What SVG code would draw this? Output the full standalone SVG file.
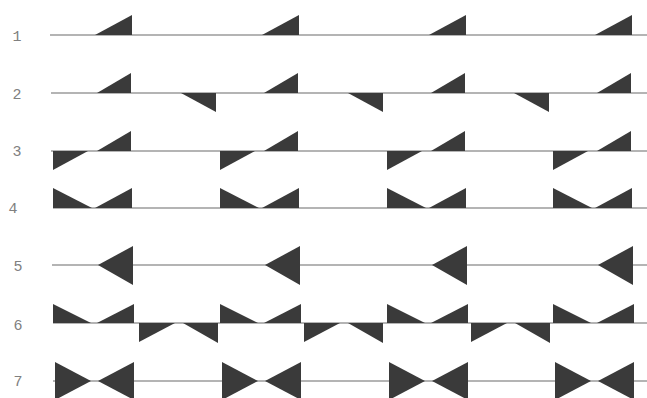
<svg xmlns="http://www.w3.org/2000/svg" xmlns:xlink="http://www.w3.org/1999/xlink" width="647" height="398" viewBox="0 0 647 398">
<style>
.ln{stroke:#6a6a6a;stroke-width:1.2;fill:none}
.tr{fill:#3a3a3a}
.lb{font-family:"Liberation Mono","DejaVu Sans Mono",monospace;font-size:15px;fill:#808080;text-anchor:middle}
</style>
<defs>
<polygon id="r1" class="tr" points="42,35 79,35 79,15"/>
<polygon id="r2u" class="tr" points="44,93 78,93 78,73"/>
<polygon id="r2d" class="tr" points="128,93 163,93 163,112"/>
<polygon id="r3d" class="tr" points="0,151 35,151 0,170"/>
<polygon id="r3u" class="tr" points="44,151 78,151 78,131"/>
<polygon id="r4l" class="tr" points="0,188 0,208 39,208"/>
<polygon id="r4r" class="tr" points="42,208 79,208 79,188"/>
<polygon id="r5" class="tr" points="45,265 80,246 80,285"/>
<polygon id="r6l" class="tr" points="0,304 0,323 38,323"/>
<polygon id="r6r" class="tr" points="44,323 81,323 81,304"/>
<polygon id="r6bl" class="tr" points="86,323 122,323 86,342"/>
<polygon id="r6br" class="tr" points="130,323 165,323 165,343"/>
<polygon id="r7l" class="tr" points="2,362 38,381 2,400"/>
<polygon id="r7r" class="tr" points="45,381 81,362 81,400"/>
</defs>
<g id="labels">
<text class="lb" x="17" y="41">1</text>
<text class="lb" x="17" y="99">2</text>
<text class="lb" x="17" y="156">3</text>
<text class="lb" x="13" y="213">4</text>
<text class="lb" x="18" y="271">5</text>
<text class="lb" x="18" y="330">6</text>
<text class="lb" x="18" y="386">7</text>
</g>
<g id="lines">
<line class="ln" x1="50" y1="35" x2="647" y2="35"/>
<line class="ln" x1="51" y1="93" x2="647" y2="93"/>
<line class="ln" x1="51" y1="151" x2="647" y2="151"/>
<line class="ln" x1="53" y1="208" x2="647" y2="208"/>
<line class="ln" x1="52" y1="265" x2="647" y2="265"/>
<line class="ln" x1="53" y1="323" x2="647" y2="323"/>
<line class="ln" x1="53" y1="381" x2="647" y2="381"/>
</g>
<g id="row1">
<use xlink:href="#r1" x="53"/><use xlink:href="#r1" x="220"/><use xlink:href="#r1" x="387"/><use xlink:href="#r1" x="553"/>
</g>
<g id="row2">
<use xlink:href="#r2u" x="53"/><use xlink:href="#r2u" x="220"/><use xlink:href="#r2u" x="387"/><use xlink:href="#r2u" x="553"/>
<use xlink:href="#r2d" x="53"/><use xlink:href="#r2d" x="220"/><use xlink:href="#r2d" x="386"/>
</g>
<g id="row3">
<use xlink:href="#r3d" x="53"/><use xlink:href="#r3d" x="220"/><use xlink:href="#r3d" x="387"/><use xlink:href="#r3d" x="553"/>
<use xlink:href="#r3u" x="53"/><use xlink:href="#r3u" x="220"/><use xlink:href="#r3u" x="387"/><use xlink:href="#r3u" x="553"/>
</g>
<g id="row4">
<use xlink:href="#r4l" x="53"/><use xlink:href="#r4l" x="220"/><use xlink:href="#r4l" x="387"/><use xlink:href="#r4l" x="553"/>
<use xlink:href="#r4r" x="53"/><use xlink:href="#r4r" x="220"/><use xlink:href="#r4r" x="387"/><use xlink:href="#r4r" x="553"/>
</g>
<g id="row5">
<use xlink:href="#r5" x="53"/><use xlink:href="#r5" x="220"/><use xlink:href="#r5" x="387"/><use xlink:href="#r5" x="553"/>
</g>
<g id="row6">
<use xlink:href="#r6l" x="53"/><use xlink:href="#r6l" x="220"/><use xlink:href="#r6l" x="387"/><use xlink:href="#r6l" x="553"/>
<use xlink:href="#r6r" x="53"/><use xlink:href="#r6r" x="220"/><use xlink:href="#r6r" x="387"/><use xlink:href="#r6r" x="553"/>
<use xlink:href="#r6bl" x="53"/><use xlink:href="#r6bl" x="218"/><use xlink:href="#r6bl" x="385"/>
<use xlink:href="#r6br" x="53"/><use xlink:href="#r6br" x="218"/><use xlink:href="#r6br" x="385"/>
</g>
<g id="row7">
<use xlink:href="#r7l" x="53"/><use xlink:href="#r7l" x="220"/><use xlink:href="#r7l" x="387"/><use xlink:href="#r7l" x="553"/>
<use xlink:href="#r7r" x="53"/><use xlink:href="#r7r" x="220"/><use xlink:href="#r7r" x="387"/><use xlink:href="#r7r" x="553"/>
</g>
</svg>
